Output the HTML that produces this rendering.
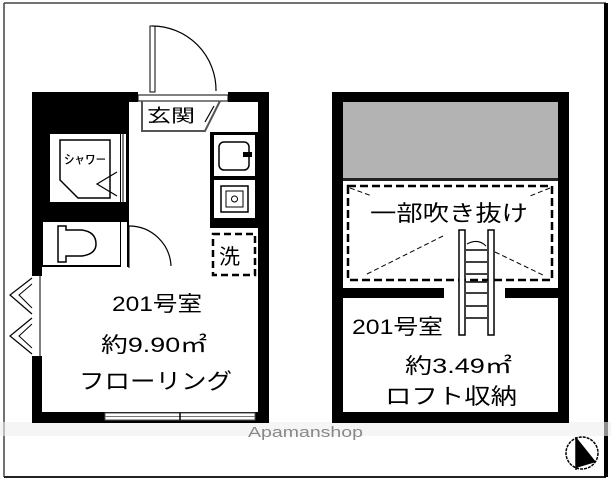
<!DOCTYPE html>
<html><head><meta charset="utf-8"><style>
html,body{margin:0;padding:0;background:#fff;}
svg{display:block;}
text{font-family:"Liberation Sans","Noto Sans CJK JP",sans-serif;}
</style></head><body>
<svg width="611" height="480" viewBox="0 0 611 480" xmlns="http://www.w3.org/2000/svg">
<rect x="0" y="0" width="611" height="480" fill="#fff"/>
<line x1="4" y1="3" x2="4" y2="477" stroke="#444" stroke-width="1.5"/>
<line x1="4" y1="3" x2="606" y2="3" stroke="#444" stroke-width="1.5"/>
<line x1="4" y1="477" x2="606" y2="477" stroke="#222" stroke-width="2"/>
<line x1="606" y1="3" x2="606" y2="477" stroke="#000" stroke-width="4"/>
<rect x="0" y="422" width="611" height="14" fill="#eee" opacity="0.6"/>

<!-- LEFT PLAN -->
<rect x="32" y="92" width="237" height="331" fill="#000"/>
<rect x="42" y="102" width="216" height="310" fill="#fff"/>
<rect x="42" y="102" width="87" height="165" fill="#000"/>
<rect x="50" y="134" width="70" height="68" fill="#fff"/>
<rect x="121" y="134" width="5" height="68" fill="#fff"/>
<line x1="123" y1="134" x2="123" y2="202" stroke="#000" stroke-width="1"/>
<polygon points="60,140 110,140 110,198 78,198 60,180" fill="none" stroke="#000" stroke-width="1.5"/>
<polyline points="117,172 97,184 117,196" fill="none" stroke="#000" stroke-width="1.2"/>
<text x="64" y="164" font-size="13" textLength="42" lengthAdjust="spacingAndGlyphs">ｼｬﾜｰ</text>
<rect x="43" y="222" width="77" height="43" fill="#fff"/>
<rect x="121" y="222" width="6" height="45" fill="#fff"/>
<path d="M58,226 L58,262 L66,262 L66,256 L82,256 Q96,254 96,244 Q96,232 82,230 L66,230 L66,226 Z" fill="none" stroke="#000" stroke-width="1.5"/>
<path d="M129,226 A42,42 0 0 1 171,266" fill="none" stroke="#000" stroke-width="1.2"/>
<line x1="129" y1="226" x2="129" y2="268" stroke="#000" stroke-width="1"/>
<rect x="138" y="92" width="90" height="10" fill="#fff"/>
<rect x="138" y="95" width="90" height="6" fill="#fff" stroke="#000" stroke-width="1"/>
<rect x="150" y="26" width="5" height="66" fill="#fff" stroke="#000" stroke-width="1"/>
<path d="M152,26 A64,64 0 0 1 216,91" fill="none" stroke="#000" stroke-width="1.2"/>
<polyline points="142,101 142,131 205,131 220,101" fill="none" stroke="#555" stroke-width="2"/>
<line x1="205" y1="122" x2="214" y2="106" stroke="#000" stroke-width="1.2"/>
<text x="147" y="122" font-size="18" textLength="48" lengthAdjust="spacingAndGlyphs">玄関</text>
<rect x="210" y="132" width="48" height="96" fill="#000"/>
<rect x="214" y="135" width="41" height="41" fill="#fff"/>
<rect x="219" y="142" width="30" height="28" rx="5" fill="none" stroke="#000" stroke-width="1.5"/>
<rect x="243" y="152" width="9" height="5" fill="#000"/>
<rect x="214" y="180" width="41" height="38" fill="#fff"/>
<rect x="221" y="186" width="27" height="26" fill="none" stroke="#000" stroke-width="1.5"/>
<rect x="226" y="191" width="17" height="16" fill="none" stroke="#000" stroke-width="1"/>
<circle cx="234.5" cy="199" r="3" fill="none" stroke="#000" stroke-width="1"/>
<rect x="213" y="234" width="42" height="41" fill="none" stroke="#000" stroke-width="2.5" stroke-dasharray="7,4"/>
<text x="219" y="264" font-size="21">洗</text>
<rect x="32" y="276" width="10" height="80" fill="#fff"/>
<line x1="40" y1="276" x2="40" y2="356" stroke="#000" stroke-width="1"/>
<polyline points="32,278 10,295 32,314" fill="none" stroke="#000" stroke-width="1.2"/>
<polyline points="32,284 19,295 32,308" fill="none" stroke="#000" stroke-width="1"/>
<polyline points="32,318 10,336 32,354" fill="none" stroke="#000" stroke-width="1.2"/>
<polyline points="32,324 19,336 32,348" fill="none" stroke="#000" stroke-width="1"/>
<rect x="105" y="413" width="150" height="7" fill="#fff" stroke="#555" stroke-width="1"/>
<line x1="105" y1="416.5" x2="255" y2="416.5" stroke="#777" stroke-width="1"/>
<line x1="180" y1="413" x2="180" y2="420" stroke="#000" stroke-width="1.5"/>
<text x="112" y="311" font-size="21" textLength="90" lengthAdjust="spacingAndGlyphs">201号室</text>
<text x="101" y="352" font-size="21" textLength="106" lengthAdjust="spacingAndGlyphs">約9.90㎡</text>
<text x="79" y="389" font-size="22" textLength="153" lengthAdjust="spacingAndGlyphs">フローリング</text>

<!-- RIGHT PLAN -->
<rect x="332" y="92" width="237" height="331" fill="#000"/>
<rect x="343" y="102" width="215" height="310" fill="#fff"/>
<rect x="343" y="102" width="215" height="76" fill="#b3b3b3"/>
<rect x="343" y="178" width="215" height="3" fill="#222"/>
<rect x="348" y="186" width="204" height="94" fill="none" stroke="#000" stroke-width="2.5" stroke-dasharray="8,4"/>
<line x1="350" y1="188" x2="372" y2="196" stroke="#000" stroke-width="1" stroke-dasharray="5,3"/>
<line x1="550" y1="188" x2="530" y2="196" stroke="#000" stroke-width="1" stroke-dasharray="5,3"/>
<line x1="367" y1="274" x2="443" y2="236" stroke="#000" stroke-width="1" stroke-dasharray="5,3"/>
<line x1="495" y1="252" x2="545" y2="276" stroke="#000" stroke-width="1" stroke-dasharray="5,3"/>
<text x="370" y="221" font-size="22" textLength="158" lengthAdjust="spacingAndGlyphs">一部吹き抜け</text>
<rect x="343" y="288" width="101" height="10" fill="#000"/>
<rect x="505" y="288" width="53" height="10" fill="#000"/>
<rect x="459" y="230" width="6" height="105" fill="#fff" stroke="#000" stroke-width="1.5"/>
<rect x="488" y="230" width="6" height="105" fill="#fff" stroke="#000" stroke-width="1.5"/>
<g stroke="#000" stroke-width="1.5">
<line x1="466" y1="250" x2="487" y2="250"/>
<line x1="466" y1="262" x2="487" y2="262"/>
<line x1="466" y1="274" x2="487" y2="274"/>
<line x1="466" y1="282" x2="487" y2="282"/>
<line x1="466" y1="293" x2="487" y2="293"/>
<line x1="466" y1="306" x2="487" y2="306"/>
<line x1="466" y1="318" x2="487" y2="318"/>
</g>
<path d="M467,244 Q478,238 486,246" fill="none" stroke="#000" stroke-width="1"/>
<text x="352" y="334" font-size="21" textLength="91" lengthAdjust="spacingAndGlyphs">201号室</text>
<text x="405" y="373" font-size="21" textLength="107" lengthAdjust="spacingAndGlyphs">約3.49㎡</text>
<text x="385" y="404" font-size="22" textLength="132" lengthAdjust="spacingAndGlyphs">ロフト収納</text>

<text x="248" y="437" font-size="15" fill="#888" textLength="115" lengthAdjust="spacingAndGlyphs">Apamanshop</text>
<circle cx="582" cy="453" r="16" fill="none" stroke="#000" stroke-width="1.5" stroke-dasharray="3,1"/>
<polygon points="576,437 576,468 596,462" fill="#000"/>
<line x1="576" y1="437" x2="576" y2="470" stroke="#000" stroke-width="1.5"/>
</svg>
</body></html>
